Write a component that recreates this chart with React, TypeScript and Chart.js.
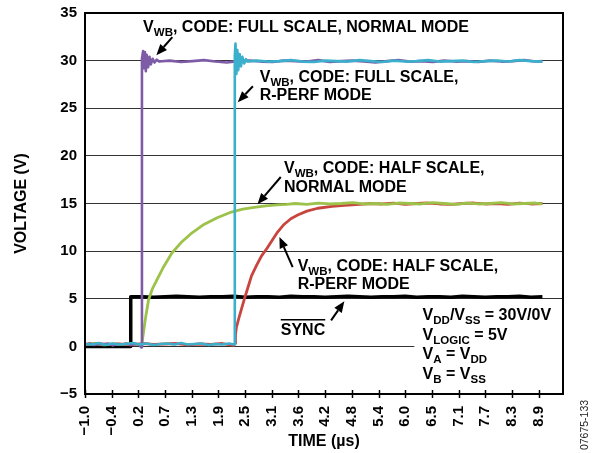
import React, { useEffect, useRef } from 'react';
import { Chart, registerables } from 'chart.js';
Chart.register(...registerables);

const FONT = '"Liberation Sans", Arial, Helvetica, sans-serif';

// ---- axis ticks ----
const xTickValues = [-1.0, -0.4167, 0.1667, 0.75, 1.3333, 1.9167, 2.5, 3.0833, 3.6667, 4.25, 4.8333, 5.4167, 6.0, 6.5833, 7.1667, 7.75, 8.3333, 8.9167];
const xTickLabels = ['\u22121.0', '\u22120.4', '0.2', '0.7', '1.3', '1.9', '2.5', '3.1', '3.6', '4.2', '4.8', '5.4', '6.0', '6.5', '7.1', '7.7', '8.3', '8.9'];

// ---- SYNC (black) ----
const syncTime = [-1.0, -0.5, 0.0, 0.0, 0.25, 0.5, 0.75, 1.0, 1.25, 1.5, 1.75, 2.0, 2.25, 2.5, 2.75, 3.0, 3.25, 3.5, 3.75, 4.0, 4.25, 4.5, 4.75, 5.0, 5.25, 5.5, 5.75, 6.0, 6.25, 6.5, 6.75, 7.0, 7.25, 7.5, 7.75, 8.0, 8.25, 8.5, 8.75, 9.0];
const syncVolt = [0.0, 0.0, 0.0, 5.2, 5.2, 5.15, 5.2, 5.25, 5.2, 5.15, 5.2, 5.2, 5.25, 5.15, 5.2, 5.2, 5.15, 5.25, 5.2, 5.2, 5.15, 5.2, 5.25, 5.2, 5.15, 5.2, 5.2, 5.25, 5.15, 5.2, 5.2, 5.15, 5.25, 5.2, 5.15, 5.2, 5.2, 5.25, 5.15, 5.2];

// ---- Full scale, normal mode (purple) ----
const fullNormalTime = [-1.0, -0.9, -0.8, -0.7, -0.6, -0.5, -0.4, -0.3, -0.2, -0.1, 0.0, 0.1, 0.18, 0.23,
  0.245, 0.27, 0.29, 0.31, 0.33, 0.35, 0.38, 0.41, 0.44, 0.48, 0.52, 0.57,
  0.62, 0.85, 1.1, 1.35, 1.6, 1.85, 2.1, 2.35, 2.6, 2.85, 3.1, 3.35, 3.6, 3.85, 4.1, 4.35, 4.6, 4.85, 5.1, 5.35, 5.6, 5.85, 6.1, 6.35, 6.6, 6.85, 7.1, 7.35, 7.6, 7.85, 8.1, 8.35, 8.6, 8.85, 9.0];
const fullNormalVolt = [0.2, 0.3, 0.15, 0.25, 0.2, 0.3, 0.1, 0.25, 0.2, 0.3, 0.15, 0.25, 0.2, -0.1,
  30.2, 31.0, 29.2, 30.9, 28.9, 30.6, 29.3, 30.4, 29.6, 30.2, 29.8, 30.1,
  29.9, 30.0, 29.85, 29.95, 30.05, 29.9, 29.8, 29.95, 30.0, 29.9, 29.85, 30.0, 29.95, 29.9, 30.05, 29.85, 29.95, 30.0, 29.9, 29.8, 29.95, 30.05, 29.9, 29.95, 29.85, 30.0, 29.9, 29.95, 29.85, 30.0, 29.9, 29.95, 30.05, 29.9, 29.95];

// ---- Full scale, R-perf mode (cyan) ----
const fullRperfTime = [-1.0, -0.85, -0.7, -0.55, -0.4, -0.25, -0.1, 0.05, 0.2, 0.35, 0.5, 0.65, 0.8, 0.95, 1.1, 1.25, 1.4, 1.55, 1.7, 1.85, 2.0, 2.15, 2.26,
  2.275, 2.29, 2.31, 2.33, 2.35, 2.38, 2.41, 2.44, 2.48, 2.52, 2.56,
  2.75, 3.0, 3.25, 3.5, 3.75, 4.0, 4.25, 4.5, 4.75, 5.0, 5.25, 5.5, 5.75, 6.0, 6.25, 6.5, 6.75, 7.0, 7.25, 7.5, 7.75, 8.0, 8.25, 8.5, 8.75, 9.0];
const fullRperfVolt = [0.25, 0.2, 0.35, 0.15, 0.3, 0.2, 0.25, 0.35, 0.2, 0.3, 0.15, 0.25, 0.3, 0.2, 0.35, 0.2, 0.25, 0.3, 0.15, 0.25, 0.2, 0.3, 0.2,
  30.5, 31.8, 28.6, 31.1, 29.0, 30.7, 29.4, 30.4, 29.7, 30.15, 29.9,
  30.0, 29.9, 29.95, 30.05, 29.9, 29.85, 30.0, 29.95, 29.9, 30.05, 29.95, 29.85, 30.0, 29.9, 29.95, 30.05, 29.9, 29.95, 30.0, 29.85, 29.95, 30.0, 29.9, 30.05, 29.95, 29.9];

// ---- Half scale, normal mode (green) ----
const halfNormalTime = [-1.0, -0.8, -0.6, -0.4, -0.2, 0.0, 0.15, 0.23,
  0.245, 0.28, 0.33, 0.39, 0.47, 0.575, 0.7, 0.9, 1.1, 1.31, 1.6, 1.89, 2.2, 2.45, 2.7, 2.95, 3.2, 3.4,
  3.6, 3.85, 4.1, 4.35, 4.6, 4.85, 5.1, 5.35, 5.6, 5.85, 6.1, 6.35, 6.6, 6.85, 7.1, 7.35, 7.6, 7.85, 8.1, 8.35, 8.6, 8.85, 9.0];
const halfNormalVolt = [0.2, 0.3, 0.15, 0.25, 0.2, 0.3, 0.2, 0.2,
  0.3, 1.5, 3.2, 4.9, 6.0, 7.0, 8.2, 9.8, 10.9, 11.8, 12.8, 13.5, 14.1, 14.4, 14.6, 14.75, 14.85, 14.9,
  15.0, 14.9, 15.05, 14.95, 15.0, 15.1, 14.95, 15.0, 14.9, 15.05, 15.0, 14.95, 15.1, 15.0, 14.9, 15.05, 14.95, 15.0, 15.1, 14.95, 15.0, 15.05, 14.95];

// ---- Half scale, R-perf mode (red) ----
const halfRperfTime = [-1.0, -0.75, -0.5, -0.25, 0.0, 0.25, 0.5, 0.75, 1.0, 1.25, 1.5, 1.75, 2.0, 2.25,
  2.28, 2.29, 2.31, 2.36, 2.42, 2.48, 2.55, 2.64, 2.75, 2.86, 2.98, 3.1, 3.21, 3.35, 3.5, 3.65, 3.85, 4.09, 4.4, 4.67, 5.0,
  5.25, 5.5, 5.75, 6.0, 6.25, 6.5, 6.75, 7.0, 7.25, 7.5, 7.75, 8.0, 8.25, 8.5, 8.75, 9.0];
const halfRperfVolt = [0.2, 0.3, 0.2, 0.25, 0.15, 0.3, 0.2, 0.25, 0.3, 0.15, 0.25, 0.2, 0.3, 0.1,
  0.3, 1.2, 2.0, 2.9, 3.9, 4.9, 6.0, 7.4, 8.5, 9.5, 10.3, 11.2, 12.0, 12.8, 13.4, 13.8, 14.2, 14.5, 14.7, 14.8, 14.9,
  15.0, 14.95, 15.05, 14.9, 15.0, 15.05, 14.95, 14.9, 15.0, 15.05, 14.95, 15.0, 14.9, 15.05, 14.95, 15.0];

const toPoints = (t: number[], v: number[]) => t.map((x, i) => ({ x, y: v[i] }));

// ---- annotations (anchored in data units) ----
const labelNotes = [
  { x: 0.27, y: 33.0, lines: ['V_{WB}, CODE: FULL SCALE, NORMAL MODE'] },
  { x: 2.82, y: 27.76, lines: ['V_{WB}, CODE: FULL SCALE,', 'R-PERF MODE'] },
  { x: 3.35, y: 18.17, lines: ['V_{WB}, CODE: HALF SCALE,', 'NORMAL MODE'] },
  { x: 3.65, y: 7.91, lines: ['V_{WB}, CODE: HALF SCALE,', 'R-PERF MODE'] },
  { x: 6.38, y: 2.73, lines: ['V_{DD}/V_{SS} = 30V/0V', 'V_{LOGIC} = 5V', 'V_{A} = V_{DD}', 'V_{B} = V_{SS}'] },
];
const syncNote = { x: 3.28, y: 1.23, text: 'SYNC' };
const arrowNotes = [
  { from: [0.91, 32.46], to: [0.56, 30.57] },
  { from: [2.67, 27.31], to: [2.34, 25.63] },
  { from: [3.28, 17.78], to: [2.77, 14.92] },
  { from: [3.54, 8.33], to: [3.25, 11.48] },
  { from: [4.38, 2.73], to: [4.67, 4.73] },
];
const conditionBox = { x0: 6.2, y0: 4.6, y1: -4.3 };

function drawRich(ctx: CanvasRenderingContext2D, x: number, y: number, s: string, size: number) {
  const parts = s.split(/(_\{[^}]*\})/).filter((p) => p.length > 0);
  let cx = x;
  for (const p of parts) {
    const sub = p.startsWith('_{');
    const txt = sub ? p.slice(2, -1) : p;
    const fs = sub ? size * 0.72 : size;
    ctx.font = `bold ${fs}px ${FONT}`;
    ctx.fillText(txt, cx, sub ? y + size * 0.25 : y);
    cx += ctx.measureText(txt).width;
  }
}

const annotationPlugin = {
  id: 'annot',
  beforeDatasetsDraw(chart: any) {
    const { ctx, scales } = chart;
    const xs = scales.x, ys = scales.y;
    ctx.save();
    ctx.fillStyle = '#fff';
    const bx = xs.getPixelForValue(conditionBox.x0);
    const by0 = ys.getPixelForValue(conditionBox.y0);
    const by1 = ys.getPixelForValue(conditionBox.y1);
    ctx.fillRect(bx, by0, chart.chartArea.right - bx - 1, by1 - by0);
    ctx.restore();
  },
  afterDatasetsDraw(chart: any) {
    const { ctx, scales, chartArea } = chart;
    const xs = scales.x, ys = scales.y;
    ctx.save();
    // frame
    ctx.strokeStyle = '#000';
    ctx.lineWidth = 2;
    ctx.strokeRect(chartArea.left, chartArea.top, chartArea.right - chartArea.left, chartArea.bottom - chartArea.top);
    // x tick marks crossing the bottom axis
    ctx.lineWidth = 1.5;
    for (const v of xTickValues) {
      const px = Math.round(xs.getPixelForValue(v)) + 0.5;
      ctx.beginPath();
      ctx.moveTo(px, chartArea.bottom - 4);
      ctx.lineTo(px, chartArea.bottom + 4);
      ctx.stroke();
    }
    // labels
    ctx.fillStyle = '#000';
    ctx.textBaseline = 'alphabetic';
    ctx.textAlign = 'left';
    for (const n of labelNotes) {
      const px = xs.getPixelForValue(n.x);
      const py = ys.getPixelForValue(n.y);
      const gap = n.lines.length > 2 ? 19.5 : 18.3;
      n.lines.forEach((l, i) => drawRich(ctx, px, py + i * gap, l, 16));
    }
    // SYNC with overline
    {
      const px = xs.getPixelForValue(syncNote.x);
      const py = ys.getPixelForValue(syncNote.y);
      ctx.font = `bold 16px ${FONT}`;
      ctx.fillText(syncNote.text, px, py);
      const w = ctx.measureText(syncNote.text).width;
      ctx.lineWidth = 1.5;
      ctx.beginPath();
      ctx.moveTo(px, py - 15);
      ctx.lineTo(px + w, py - 15);
      ctx.stroke();
    }
    // arrows
    for (const a of arrowNotes) {
      const x1 = xs.getPixelForValue(a.from[0]), y1 = ys.getPixelForValue(a.from[1]);
      const x2 = xs.getPixelForValue(a.to[0]), y2 = ys.getPixelForValue(a.to[1]);
      const ang = Math.atan2(y2 - y1, x2 - x1);
      const L = 11, W = 4.5;
      const bxp = x2 - L * Math.cos(ang), byp = y2 - L * Math.sin(ang);
      ctx.lineWidth = 2;
      ctx.beginPath();
      ctx.moveTo(x1, y1);
      ctx.lineTo(bxp, byp);
      ctx.stroke();
      ctx.beginPath();
      ctx.moveTo(x2, y2);
      ctx.lineTo(bxp + W * Math.sin(ang), byp - W * Math.cos(ang));
      ctx.lineTo(bxp - W * Math.sin(ang), byp + W * Math.cos(ang));
      ctx.closePath();
      ctx.fill();
    }
    // figure id
    ctx.save();
    ctx.translate(585, 425);
    ctx.rotate(-Math.PI / 2);
    ctx.textAlign = 'center';
    ctx.textBaseline = 'middle';
    ctx.font = `10.5px ${FONT}`;
    ctx.fillStyle = '#222';
    ctx.fillText('07675-133', 0, 0);
    ctx.restore();
    ctx.restore();
  },
};

export default function App() {
  const ref = useRef<HTMLCanvasElement>(null);
  useEffect(() => {
    if (!ref.current) return;
    const line = (label: string, t: number[], v: number[], color: string, width: number, order: number) => ({
      label,
      data: toPoints(t, v),
      borderColor: color,
      backgroundColor: color,
      borderWidth: width,
      pointRadius: 0,
      tension: 0,
      fill: false,
      order,
      borderJoinStyle: 'round' as const,
    });
    const chart = new Chart(ref.current, {
      type: 'line',
      data: {
        datasets: [
          line('Full scale, R-perf', fullRperfTime, fullRperfVolt, '#3BAFCB', 2.6, 1),
          line('Full scale, normal', fullNormalTime, fullNormalVolt, '#7E5BA6', 2.6, 2),
          line('Half scale, normal', halfNormalTime, halfNormalVolt, '#9DC24A', 2.8, 3),
          line('Half scale, R-perf', halfRperfTime, halfRperfVolt, '#C8453F', 2.8, 4),
          line('SYNC', syncTime, syncVolt, '#000000', 3.5, 5),
        ],
      },
      options: {
        animation: false,
        responsive: true,
        maintainAspectRatio: false,
        layout: { padding: { top: 13, right: 40, left: 0, bottom: 0 } },
        plugins: { legend: { display: false }, tooltip: { enabled: false } },
        scales: {
          x: {
            type: 'linear',
            min: -1.0,
            max: 9.45,
            afterBuildTicks: (scale: any) => {
              scale.ticks = xTickValues.map((v) => ({ value: v }));
            },
            afterFit: (scale: any) => {
              scale.height = 59;
            },
            grid: { display: false, drawTicks: false },
            border: { display: false },
            ticks: {
              autoSkip: false,
              minRotation: 90,
              maxRotation: 90,
              padding: 12,
              color: '#000',
              font: { family: FONT, size: 15, weight: 'bold' },
              callback: (_v: any, i: number) => xTickLabels[i],
            },
            title: {
              display: true,
              text: 'TIME (\u00b5s)',
              color: '#000',
              font: { family: FONT, size: 16, weight: 'bold' },
              padding: { top: 0, bottom: 2 },
            },
          },
          y: {
            min: -5,
            max: 35,
            afterFit: (scale: any) => {
              scale.width = 85;
              scale.paddingTop = 0;
              scale.paddingBottom = 0;
            },
            grid: { color: '#333', lineWidth: 1, drawTicks: false },
            border: { display: false },
            ticks: {
              stepSize: 5,
              padding: 8,
              color: '#000',
              font: { family: FONT, size: 15, weight: 'bold' },
              callback: (v: any) => (v < 0 ? '\u2212' + Math.abs(v) : String(v)),
            },
            title: {
              display: true,
              text: 'VOLTAGE (V)',
              color: '#000',
              font: { family: FONT, size: 16, weight: 'bold' },
              padding: { top: 12, bottom: 0 },
            },
          },
        },
      },
      plugins: [annotationPlugin],
    } as any);
    return () => chart.destroy();
  }, []);
  return (
    <div style={{ position: 'absolute', left: 0, top: 0, width: 603, height: 453, background: '#fff' }}>
      <canvas ref={ref} />
    </div>
  );
}
